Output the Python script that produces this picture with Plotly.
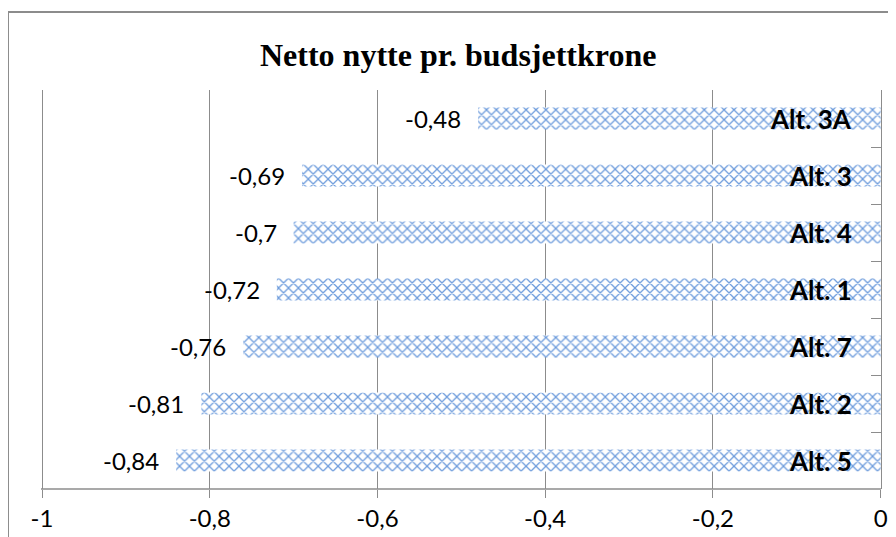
import plotly.graph_objects as go

categories = ["Alt. 5", "Alt. 2", "Alt. 7", "Alt. 1", "Alt. 4", "Alt. 3", "Alt. 3A"]
values = [-0.84, -0.81, -0.76, -0.72, -0.7, -0.69, -0.48]
x_tickvals = [-1, -0.8, -0.6, -0.4, -0.2, 0]
x_ticktext = ["-1", "-0,8", "-0,6", "-0,4", "-0,2", "0"]

def fmt(v):
    return ("%g" % v).replace(".", ",")

fig = go.Figure(go.Bar(
    y=categories, x=values, orientation="h",
    marker=dict(color="white", line=dict(width=0),
                pattern=dict(shape="x", fgcolor="#6E9CDC", bgcolor="white", size=7, solidity=0.33, fillmode="replace")),
    hoverinfo="x+y",
))

annotations = []
for c, v in zip(categories, values):
    annotations.append(dict(x=v, y=c, xref="x", yref="y", text=fmt(v), showarrow=False,
                            xanchor="right", xshift=-15, font=dict(family="Lato", size=24, color="black")))
    annotations.append(dict(x=0, y=c, xref="x", yref="y", text="<b>%s</b>" % c, showarrow=False,
                            xanchor="right", xshift=-27, font=dict(family="Lato", size=26, color="black")))

# page body adds an 8px offset; figure is sized/positioned to compensate
fig.update_layout(
    width=888, height=529,
    margin=dict(l=33, r=15, t=82, b=48),
    paper_bgcolor="white", plot_bgcolor="white",
    bargap=0.61, showlegend=False,
    title=dict(text="<b>Netto nytte pr. budsjettkrone</b>", x=0.507, xanchor="center", y=0.911, yanchor="middle",
               font=dict(family="Liberation Serif", size=32, color="black")),
    xaxis=dict(range=[-1.0012, 0.0004], tickvals=x_tickvals, ticktext=x_ticktext, showgrid=True, gridcolor="#8c8c8c", gridwidth=1.3,
               showline=False, ticks="outside", ticklen=8, tickcolor="#8c8c8c",
               tickfont=dict(family="Lato", size=24, color="black"), zeroline=False, automargin=False),
    yaxis=dict(side="right", tickson="boundaries", ticks="inside", ticklen=10, showticklabels=False,
               tickcolor="#8c8c8c", showline=True, linecolor="#8c8c8c", linewidth=1.3, showgrid=False, automargin=False),
    annotations=annotations,
    shapes=[dict(type="rect", xref="paper", yref="paper", x0=-0.0393, x1=1.3, y0=-0.5, y1=1.1955,
                 line=dict(color="#8c8c8c", width=2), fillcolor="rgba(0,0,0,0)", layer="below"),
            dict(type="line", xref="paper", yref="paper", x0=0, x1=1, y0=0, y1=0,
                 line=dict(color="#8c8c8c", width=1.3))],
)

fig.write_html("out.html")
